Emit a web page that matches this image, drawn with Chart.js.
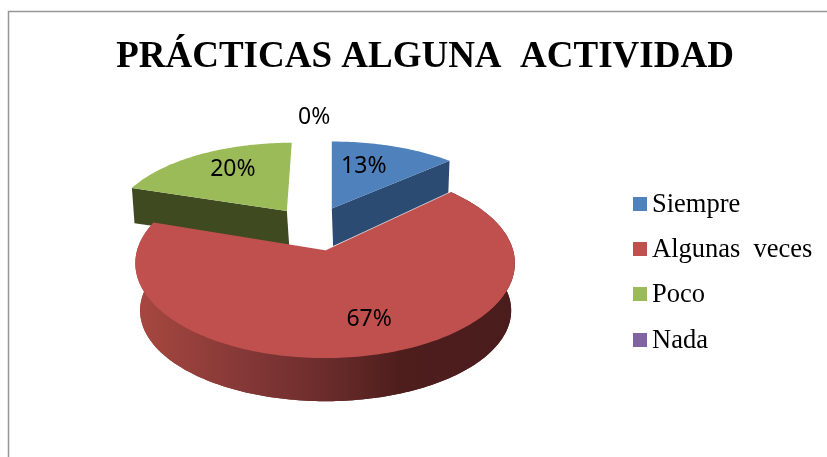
<!DOCTYPE html>
<html>
<head>
<meta charset="utf-8">
<style>html,body{margin:0;padding:0;background:#fff}canvas{display:block}</style>
<script src="https://cdn.jsdelivr.net/npm/chart.js@4"></script>
</head>
<body>
<canvas id="c" width="827" height="457" style="width:827px;height:457px"></canvas>
<script>
const categories = ["Siempre", "Algunas  veces", "Poco", "Nada"];
const values = [13, 67, 20, 0];
const colors = ["#4f81bd", "#c0504d", "#9bbb59", "#8064a2"];
const titleText = "PRÁCTICAS ALGUNA  ACTIVIDAD";

// 3D look: offsets from the pie centre, in px at the library's radius of 185
const PERSPECTIVE = 0.137;
const faces = [
  { top: {dx:-93.3, dy:-63.7, sx:176.8, sy:76.3, skew:0}, bottom: {dx:-92, dy:-26, sx:172.9, sy:80, skew:0}, side:"#2c4b72", walls:"end" },
  { top: {dx:-100, dy:-22, sx:188.2, sy:93.2, skew:0}, bottom: {dx:-99.5, dy:26, sx:184, sy:89, skew:0}, side:null, walls:"band" },
  { top: {dx:-138.3, dy:-61.3, sx:171.8, sy:77.7, skew:-0.072}, bottom: {dx:-136, dy:-27, sx:171.4, sy:74, skew:-0.072}, side:"#404a20", walls:"start" },
  { top: {dx:-100, dy:-22, sx:188, sy:93, skew:0}, bottom: {dx:-100, dy:26, sx:184, sy:89, skew:0}, side:"#4a3a66", walls:"none" }
];
const labelOffsets = [[32,-42],[44,69],[-54,-42],[-11,-133]];
const redSideStops = [[0,"#a6473f"],[0.28,"#843837"],[0.5,"#6b2c2b"],[0.7,"#4e1e1d"],[1,"#4a1c1b"]];
const legendBaselines = [212.3, 257, 302, 347.7];
const legendBoxTops = [197, 242, 287, 333];

function project(arc, face, theta, r) {
  const u = r * Math.sin(theta), v = -r * Math.cos(theta);
  const w = 1 - PERSPECTIVE * v, X = u / w, Y = v / w;
  const s = arc.outerRadius / 185;
  const py = face.sy * s * Y;
  return [arc.x + face.dx * s + face.sx * s * X + face.skew * py, arc.y + face.dy * s + py];
}
function arcPoints(arc, face, a0, a1) {
  const pts = [], n = Math.max(2, Math.ceil((a1 - a0) / 0.02));
  for (let i = 0; i <= n; i++) pts.push(project(arc, face, a0 + (a1 - a0) * i / n, 1));
  return pts;
}
function fillPoly(ctx, pts, fill) {
  ctx.beginPath();
  pts.forEach((p, i) => i ? ctx.lineTo(p[0], p[1]) : ctx.moveTo(p[0], p[1]));
  ctx.closePath();
  ctx.fillStyle = fill;
  ctx.fill();
}

const pie3d = {
  id: "pie3d",
  beforeDatasetDraw(chart) {
    const ctx = chart.ctx, meta = chart.getDatasetMeta(0);
    ctx.save();
    [0, 2, 1].forEach(i => {
      const arc = meta.data[i], f = faces[i];
      const a0 = arc.startAngle + Math.PI / 2, a1 = arc.endAngle + Math.PI / 2;
      if (a1 - a0 <= 0) return;
      let side = f.side;
      if (!side) {
        const l = project(arc, f.bottom, -Math.PI / 2, 1)[0], r = project(arc, f.bottom, Math.PI / 2, 1)[0];
        side = ctx.createLinearGradient(l, 0, r, 0);
        redSideStops.forEach(s => side.addColorStop(s[0], s[1]));
      }
      const topArc = arcPoints(arc, f.top, a0, a1), botArc = arcPoints(arc, f.bottom, a0, a1);
      const at = project(arc, f.top, 0, 0), ab = project(arc, f.bottom, 0, 0);
      if (f.walls === "band") {
        fillPoly(ctx, [ab].concat(botArc), side);
        fillPoly(ctx, topArc.concat(botArc.slice().reverse()), side);
      }
      if (f.walls === "start") fillPoly(ctx, [at, topArc[0], botArc[0], ab], side);
      if (f.walls === "end") fillPoly(ctx, [at, topArc[topArc.length - 1], botArc[botArc.length - 1], ab], side);
      fillPoly(ctx, [at].concat(topArc), colors[i]);
      if (i === 1) {
        ctx.beginPath();
        ctx.moveTo(topArc[0][0], topArc[0][1]);
        ctx.lineTo(at[0], at[1]);
        ctx.strokeStyle = "rgba(255,255,255,0.65)";
        ctx.lineWidth = 1;
        ctx.stroke();
      }
    });
    ctx.restore();
    return false;
  },
  afterDraw(chart) {
    const ctx = chart.ctx, meta = chart.getDatasetMeta(0);
    ctx.save();
    // frame
    ctx.strokeStyle = "#979797";
    ctx.lineWidth = 1.5;
    ctx.beginPath();
    ctx.moveTo(8.5, 457);
    ctx.lineTo(8.5, 11.5);
    ctx.lineTo(827, 11.5);
    ctx.stroke();
    // percentage labels
    ctx.font = "23px 'Noto Sans'";
    ctx.fillStyle = "#000";
    ctx.textAlign = "center";
    ctx.textBaseline = "middle";
    values.forEach((v, i) => {
      const arc = meta.data[i], f = faces[i];
      const a = project(arc, f.top, 0, 0);
      ctx.fillText(v + "%", a[0] + labelOffsets[i][0], a[1] + labelOffsets[i][1]);
    });
    // legend
    ctx.font = "26.5px 'Liberation Serif'";
    ctx.textAlign = "left";
    ctx.textBaseline = "alphabetic";
    categories.forEach((c, i) => {
      ctx.fillStyle = colors[i];
      ctx.fillRect(633, legendBoxTops[i], 14, 14);
      ctx.fillStyle = "#000";
      ctx.fillText(c, 652, legendBaselines[i]);
    });
    ctx.restore();
  }
};

new Chart(document.getElementById("c"), {
  type: "pie",
  data: { labels: categories, datasets: [{ data: values, backgroundColor: colors, borderWidth: 0 }] },
  options: {
    responsive: false,
    animation: false,
    layout: { padding: { left: 23, right: 0, top: 0, bottom: 0 } },
    plugins: {
      legend: { display: false },
      tooltip: { enabled: false },
      title: {
        display: true,
        text: titleText,
        color: "#000",
        font: { family: "'Liberation Serif'", size: 37, weight: "bold" },
        padding: { top: 35.5, bottom: 7.5 }
      }
    }
  },
  plugins: [pie3d]
});
</script>
</body>
</html>
